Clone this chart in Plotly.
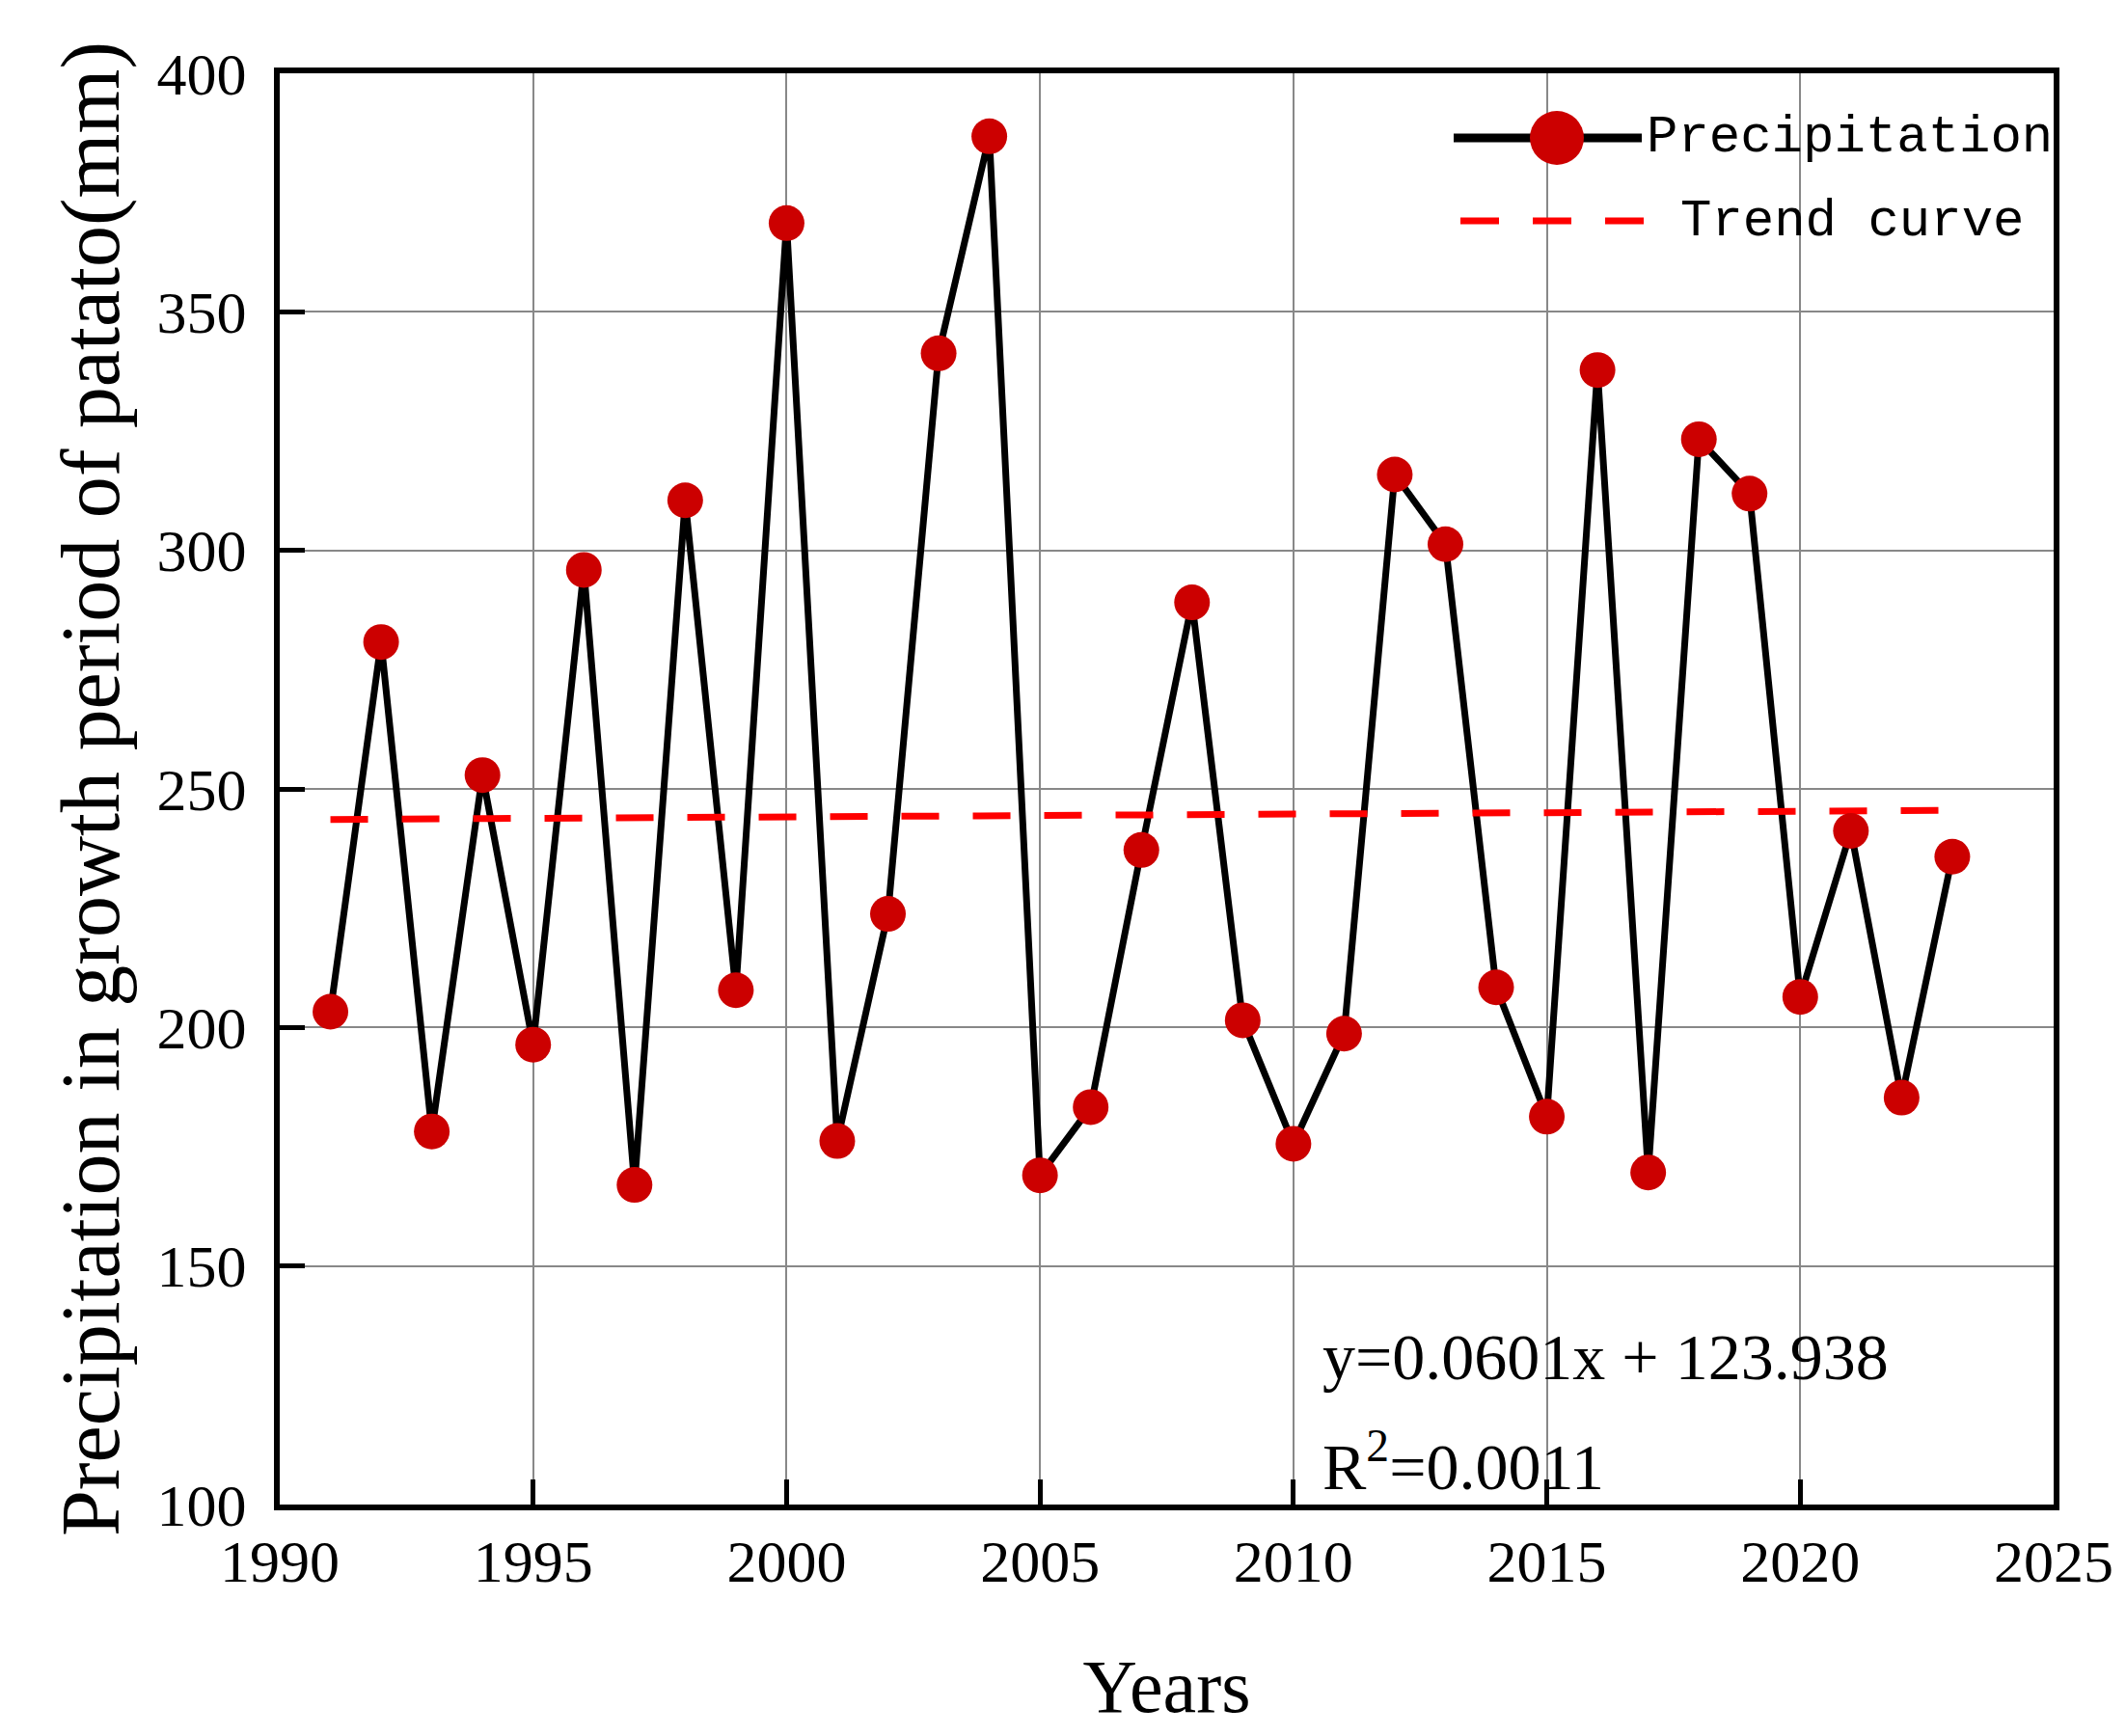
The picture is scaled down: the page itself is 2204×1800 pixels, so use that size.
import plotly.graph_objects as go

years = list(range(1991, 2024))
precip = [203.3, 280.8, 178.2, 252.9, 196.4, 295.9, 167.0, 310.5, 207.8, 368.6,
          176.2, 223.8, 341.3, 386.8, 169.0, 183.3, 237.2, 289.1, 201.5, 175.6,
          198.7, 315.9, 301.3, 208.4, 181.3, 337.8, 169.6, 323.3, 311.9, 206.4,
          241.2, 185.3, 235.8]
trend_x = [1991, 2023]
trend_y = [243.6, 245.5]
x_ticks = [1990, 1995, 2000, 2005, 2010, 2015, 2020, 2025]
y_ticks = [100, 150, 200, 250, 300, 350, 400]

SERIF = "Liberation Serif"
MONO = "Liberation Mono"
RED_DOT = "#CC0000"

fig = go.Figure()
fig.add_trace(go.Scatter(x=years, y=precip, mode="lines",
                         line=dict(color="black", width=7), showlegend=False))
fig.add_trace(go.Scatter(x=trend_x, y=trend_y, mode="lines",
                         line=dict(color="#FF0000", width=7, dash="39px,35px"),
                         showlegend=False))
fig.add_trace(go.Scatter(x=years, y=precip, mode="markers",
                         marker=dict(color=RED_DOT, size=37, line=dict(width=0)),
                         showlegend=False))

axis_common = dict(showline=True, linecolor="black", linewidth=6, mirror=True,
                   showgrid=True, gridcolor="#888888", gridwidth=2,
                   ticks="inside", ticklen=26, tickwidth=5, tickcolor="black",
                   zeroline=False,
                   tickfont=dict(family=SERIF, size=62, color="black"))

fig.update_layout(
    width=2204, height=1800,
    margin=dict(l=282, r=83, t=68, b=248, autoexpand=False),
    paper_bgcolor="white", plot_bgcolor="white",
    xaxis=dict(range=[1990, 2025], tickvals=x_ticks, ticktext=[str(v) for v in x_ticks],
               title=dict(text="Years", font=dict(family=SERIF, size=78, color="black"),
                          standoff=70),
               ticklabelstandoff=0,
               **axis_common),
    yaxis=dict(range=[100, 400], tickvals=y_ticks, ticktext=[str(v) for v in y_ticks],
               title=dict(text="Precipitation in growth period of patato(mm)",
                          font=dict(family=SERIF, size=86, color="black"),
                          standoff=12),
               ticklabelstandoff=16,
               **axis_common),
)

# Legend drawn inside the plot area
def px_x(p):
    return (p - 282) / 1839

def px_y(p):
    return (1552 - p) / 1484

row1 = px_y(135)
row2 = px_y(221)
fig.add_shape(type="line", xref="paper", yref="paper",
              x0=px_x(1499), x1=px_x(1694), y0=row1, y1=row1,
              line=dict(color="black", width=9), layer="above")
fig.add_shape(type="circle", xref="paper", yref="paper",
              xsizemode="pixel", ysizemode="pixel",
              xanchor=px_x(1606), yanchor=row1,
              x0=-28, x1=28, y0=-28, y1=28,
              fillcolor=RED_DOT, line=dict(width=0), layer="above")
fig.add_shape(type="line", xref="paper", yref="paper",
              x0=px_x(1506), x1=px_x(1696), y0=row2, y1=row2,
              line=dict(color="#FF0000", width=7, dash="40px,35px"), layer="above")
fig.add_annotation(text="Precipitation", xref="paper", yref="paper",
                   x=px_x(1697), y=row1, xanchor="left", yanchor="middle",
                   showarrow=False, font=dict(family=MONO, size=54, color="black"))
fig.add_annotation(text="Trend curve", xref="paper", yref="paper",
                   x=px_x(1732), y=row2, xanchor="left", yanchor="middle",
                   showarrow=False, font=dict(family=MONO, size=54, color="black"))

# Regression equation
fig.add_annotation(text="y=0.0601x + 123.938", xref="paper", yref="paper",
                   x=px_x(1361), y=px_y(1399), xanchor="left", yanchor="middle",
                   showarrow=False, font=dict(family=SERIF, size=68, color="black"))
fig.add_annotation(text="R<sup>2</sup>=0.0011", xref="paper", yref="paper",
                   x=px_x(1361), y=px_y(1508), xanchor="left", yanchor="middle",
                   showarrow=False, font=dict(family=SERIF, size=68, color="black"))

fig.write_html("out.html")
